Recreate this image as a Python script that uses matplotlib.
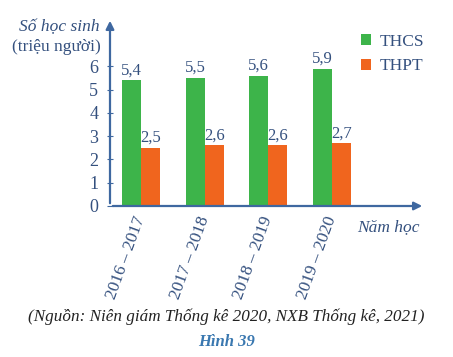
import matplotlib.pyplot as plt
import matplotlib.transforms as mtransforms
import numpy as np

nam_hoc = ['2016 – 2017', '2017 – 2018', '2018 – 2019', '2019 – 2020']
thcs = [5.4, 5.5, 5.6, 5.9]
thpt = [2.5, 2.6, 2.6, 2.7]
y_ticks = [0, 1, 2, 3, 4, 5, 6]

GREEN = '#3db44a'
ORANGE = '#f0651e'
TXT = '#34507e'
AXC = '#3f68a0'
FONT = 'Liberation Serif'

W, H = 453, 357
fig = plt.figure(figsize=(W / 100, H / 100), dpi=100)
ax = fig.add_axes([110 / W, 1 - 206 / H, 315 / W, 188 / H])

x = np.arange(len(nam_hoc))
bw = 0.3
b1 = ax.bar(x - bw / 2, thcs, bw, color=GREEN, label='THCS')
b2 = ax.bar(x + bw / 2, thpt, bw, color=ORANGE, label='THPT')

for bars, vals in ((b1, thcs), (b2, thpt)):
    for r, v in zip(bars, vals):
        ax.text(r.get_x() + r.get_width() / 2, v + 0.08, f'{v:.1f}'.replace('.', ','),
                ha='center', va='bottom', fontsize=12, color=TXT, family=FONT)

ax.set_xlim(-0.487, 4.46)
ax.set_ylim(0, 8.07)
for s in ax.spines.values():
    s.set_visible(False)

# truc co mui ten
ax.annotate('', xy=(1, 0), xytext=(0, 0), xycoords='axes fraction',
            arrowprops=dict(arrowstyle='-|>', color=AXC, lw=1.6, mutation_scale=12))
ax.annotate('', xy=(0, 1), xytext=(0, 0), xycoords='axes fraction',
            arrowprops=dict(arrowstyle='-|>', color=AXC, lw=1.6, mutation_scale=12))

ax.set_yticks(y_ticks)
ax.set_yticklabels([str(t) for t in y_ticks], fontsize=13, color=TXT, family=FONT)
ax.tick_params(axis='y', direction='inout', length=5, color=AXC, pad=6)
ax.set_xticks(x)
ax.set_xticklabels(nam_hoc, rotation=70, ha='right', va='center', rotation_mode='anchor',
                   fontsize=12.5, color=TXT, family=FONT)
ax.tick_params(axis='x', length=0, pad=4)
shift = mtransforms.ScaledTranslation(0, -0.05, fig.dpi_scale_trans)
for lb in ax.get_xticklabels():
    lb.set_transform(lb.get_transform() + shift)

fig.text(100 / W, 1 - 27 / H, 'Số học sinh', ha='right', va='center', fontsize=12.5,
         style='italic', color=TXT, family=FONT)
fig.text(101 / W, 1 - 47 / H, '(triệu người)', ha='right', va='center', fontsize=12.5,
         color=TXT, family=FONT)
fig.text(420 / W, 1 - 227 / H, 'Năm học', ha='right', va='center', fontsize=12.5,
         style='italic', color=TXT, family=FONT)

leg = ax.legend(loc='upper left', bbox_to_anchor=(345 / W, 1 - 18 / H), bbox_transform=fig.transFigure,
                frameon=False, handlelength=0.6, handleheight=0.6, handletextpad=0.5,
                labelspacing=0.5, prop={'family': FONT, 'size': 12.5})
for t in leg.get_texts():
    t.set_color(TXT)

fig.text(0.5, 1 - 317 / H, '(Nguồn: Niên giám Thống kê 2020, NXB Thống kê, 2021)', ha='center',
         va='center', fontsize=12.3, style='italic', color='#222222', family=FONT)
fig.text(0.5, 1 - 342 / H, 'Hình 39', ha='center', va='center', fontsize=12,
         style='italic', weight='bold', color='#3a78b0', family=FONT)

fig.savefig('out.png', dpi=100)
